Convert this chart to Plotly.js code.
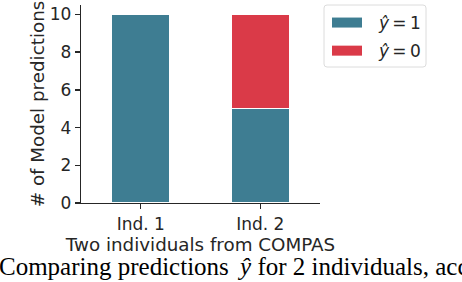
<!DOCTYPE html>
<html>
<head>
<meta charset="utf-8">
<script src="https://cdn.plot.ly/plotly-3.0.1.min.js"></script>
<style>html,body{margin:0;padding:0;background:#fff;}#chart{width:462px;height:282px;}</style>
</head>
<body>
<div id="chart"></div>
<script>
const categories = ["Ind. 1", "Ind. 2"];
const predOne = [10, 5];   // ŷ = 1
const predZero = [0, 5];   // ŷ = 0
const seriesNames = ["\u2002\u2009<i>ŷ</i>\u2009=\u20091", "\u2002\u2009<i>ŷ</i>\u2009=\u20090"];
const colors = ["#3E7D92", "#DA3A48"];
const yTicks = [0, 2, 4, 6, 8, 10];
const xTitle = "Two individuals from COMPAS";
const yTitle = "# of Model predictions";
const caption = "Comparing predictions\u2009 <i>ŷ</i> for 2 individuals, acc";

const textColor = "#262626";
const fontFam = "DejaVu Sans";

const traces = [
  {type: "bar", x: categories, y: predOne, name: seriesNames[0], width: 0.49,
   marker: {color: colors[0], line: {color: "#fff", width: 1.5}}, showlegend: false},
  {type: "bar", x: categories, y: predZero, name: seriesNames[1], width: 0.49,
   marker: {color: colors[1], line: {color: "#fff", width: 1.5}}, showlegend: false},
  {type: "scatter", mode: "lines", x: [categories[0]], y: [null], name: seriesNames[0],
   legendgroup: "a", line: {color: colors[0], width: 10}, hoverinfo: "skip"},
  {type: "scatter", mode: "lines", x: [categories[0]], y: [null], name: seriesNames[1],
   legendgroup: "b", line: {color: colors[1], width: 10}, hoverinfo: "skip"}
];

// legend frame (rounded) in paper coordinates
const L = 81, T = 5, PW = 239, PH = 198;
function px2x(p) { return (p - L) / PW; }
function px2y(p) { return (T + PH - p) / PH; }
const bx0 = 324, bx1 = 426, by0 = 5, by1 = 67, rad = 3;
const frame = `M ${px2x(bx0 + rad)} ${px2y(by0)} L ${px2x(bx1 - rad)} ${px2y(by0)} ` +
  `Q ${px2x(bx1)} ${px2y(by0)} ${px2x(bx1)} ${px2y(by0 + rad)} ` +
  `L ${px2x(bx1)} ${px2y(by1 - rad)} Q ${px2x(bx1)} ${px2y(by1)} ${px2x(bx1 - rad)} ${px2y(by1)} ` +
  `L ${px2x(bx0 + rad)} ${px2y(by1)} Q ${px2x(bx0)} ${px2y(by1)} ${px2x(bx0)} ${px2y(by1 - rad)} ` +
  `L ${px2x(bx0)} ${px2y(by0 + rad)} Q ${px2x(bx0)} ${px2y(by0)} ${px2x(bx0 + rad)} ${px2y(by0)} Z`;

const layout = {
  width: 462, height: 282,
  margin: {l: 81, r: 142, t: 5, b: 79},
  paper_bgcolor: "#fff", plot_bgcolor: "#fff",
  barmode: "stack",
  font: {family: fontFam, size: 17, color: textColor},
  showlegend: true,
  legend: {x: px2x(bx0 + 3), y: 1.0, xanchor: "left", yanchor: "top",
           traceorder: "grouped", tracegroupgap: 3,
           bgcolor: "rgba(0,0,0,0)", borderwidth: 0,
           font: {family: fontFam, size: 17, color: textColor}},
  shapes: [{type: "path", xref: "paper", yref: "paper", path: frame,
            line: {color: "#dcdcdc", width: 1}, fillcolor: "rgba(255,255,255,0.8)", layer: "above"}],
  xaxis: {type: "category", range: [-0.5, 1.5], showline: true, linecolor: textColor, linewidth: 1.3,
          ticks: "outside", ticklen: 5, tickwidth: 1.3, tickcolor: textColor,
          showgrid: false, zeroline: false, fixedrange: true,
          tickfont: {family: fontFam, size: 17, color: textColor},
          title: {text: xTitle, font: {family: fontFam, size: 18.3, color: textColor}, standoff: 0}},
  yaxis: {range: [0, 10.5], tickvals: yTicks, showline: true, linecolor: textColor, linewidth: 1.3,
          ticks: "outside", ticklen: 5, tickwidth: 1.3, tickcolor: textColor,
          showgrid: false, zeroline: false, fixedrange: true,
          tickfont: {family: fontFam, size: 17, color: textColor},
          title: {text: yTitle, font: {family: fontFam, size: 18.3, color: textColor}, standoff: 0}},
  annotations: [{
    text: caption, xref: "paper", yref: "paper", x: px2x(-3), y: px2y(266),
    xanchor: "left", yanchor: "middle", showarrow: false,
    font: {family: "Liberation Serif", size: 25, color: "#000"}
  }]
};

Plotly.newPlot("chart", traces, layout, {displayModeBar: false, staticPlot: true});
</script>
</body>
</html>
